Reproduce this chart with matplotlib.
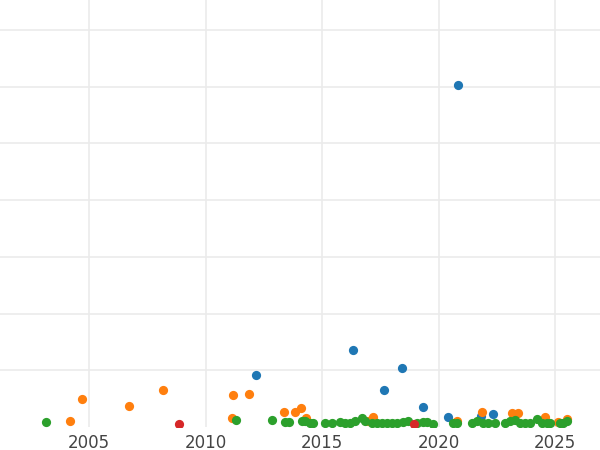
import matplotlib
matplotlib.use("Agg")
import matplotlib.pyplot as plt

# values (x = year, y = arbitrary units, grid step 10)
blue_x = [2020.84, 2016.33, 2018.43, 2012.17, 2017.66, 2019.33, 2020.41, 2022.34, 2021.82]
blue_y = [60.3, 13.6, 10.4, 9.2, 6.5, 3.5, 1.8, 2.3, 1.9]

orange_x = [2004.18, 2004.70, 2006.72, 2008.18, 2011.18, 2011.87, 2011.14, 2013.37, 2013.84,
            2014.10, 2014.31, 2016.97, 2017.19, 2020.79, 2021.87, 2023.15, 2023.41, 2024.57,
            2025.52, 2025.13]
orange_y = [1.1, 4.9, 3.7, 6.5, 5.6, 5.8, 1.6, 2.6, 2.6,
            3.4, 1.6, 1.1, 1.8, 1.1, 2.6, 2.5, 2.5, 1.8,
            1.4, 0.9]

green_x = [2003.15, 2011.31, 2012.85, 2013.41, 2013.58, 2014.14, 2014.27, 2014.48, 2014.61,
           2015.13, 2015.43, 2015.77, 2015.99, 2016.20, 2016.42, 2016.72, 2016.85, 2017.15,
           2017.36, 2017.58, 2017.79, 2018.00, 2018.22, 2018.48, 2018.69, 2019.08, 2019.33,
           2019.51, 2019.76, 2020.62, 2020.79, 2021.44, 2021.65, 2021.91, 2022.12, 2022.42,
           2022.85, 2023.07, 2023.28, 2023.50, 2023.71, 2023.93, 2024.23, 2024.44, 2024.66,
           2024.79, 2025.21, 2025.34, 2025.52]
green_y = [0.9, 1.2, 1.2, 0.9, 0.9, 1.1, 1.1, 0.7, 0.7,
           0.7, 0.7, 0.9, 0.7, 0.7, 1.1, 1.6, 1.1, 0.7,
           0.7, 0.7, 0.7, 0.7, 0.7, 0.9, 1.1, 0.7, 0.9,
           0.9, 0.5, 0.7, 0.7, 0.7, 1.1, 0.7, 0.7, 0.7,
           0.7, 1.1, 1.2, 0.7, 0.7, 0.7, 1.4, 0.7, 0.7,
           0.7, 0.7, 0.7, 1.1]

red_x = [2008.86, 2018.95]
red_y = [0.5, 0.5]

x_ticks = [2005, 2010, 2015, 2020, 2025]
y_grid = [10, 20, 30, 40, 50, 60, 70]

fig = plt.figure(figsize=(6, 4.5), dpi=100)
ax = fig.add_axes([0, 23 / 450, 1, 427 / 450])

for xs, ys, c in [(blue_x, blue_y, "#1f77b4"), (orange_x, orange_y, "#ff7f0e"),
                  (green_x, green_y, "#2ca02c"), (red_x, red_y, "#d62728")]:
    ax.scatter(xs, ys, s=44, color=c, linewidths=0, zorder=3)

ax.set_xlim(2001.18, 2026.93)
ax.set_ylim(0, 75.3)
ax.set_xticks(x_ticks)
ax.set_xticklabels([str(t) for t in x_ticks])
ax.set_yticks(y_grid)
ax.set_yticklabels([])
ax.grid(True, color="#ebebeb", linewidth=1.2, zorder=0)
ax.set_axisbelow(True)
ax.tick_params(length=0, pad=5, labelsize=12, labelcolor="#444444")
ax.tick_params(axis="y", labelleft=False)
for s in ax.spines.values():
    s.set_visible(False)

fig.savefig("out.png", dpi=100)
